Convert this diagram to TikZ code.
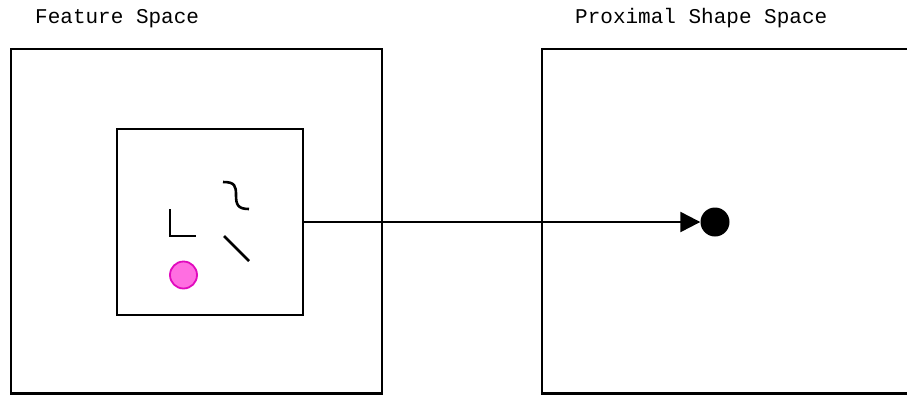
\documentclass[tikz,border=0pt]{standalone}
\usepackage{fontspec}
\setmonofont{Liberation Mono}
\usetikzlibrary{arrows.meta}
\definecolor{pinkfill}{RGB}{255,110,225}
\definecolor{pinkline}{RGB}{225,10,190}
\begin{document}
\begin{tikzpicture}[x=1pt,y=-1pt,
  frame/.style={draw=black,line width=2.6pt},
  glyph/.style={draw=black,line width=2.6pt},
  title/.style={font=\ttfamily\fontsize{21}{24}\selectfont,anchor=base west,inner sep=0pt}]
\useasboundingbox (0,0) rectangle (907,394);
\clip (0,0) rectangle (907,394);
\node[title] (t1) at (35,23) {Feature Space};
\node[title] (t2) at (575,23) {Proximal Shape Space};
\draw[frame] (11,49) rectangle (382,393.5);
\draw[frame] (542,49) rectangle (1000,393.5);
\node[frame,minimum width=186pt,minimum height=186pt,inner sep=0pt] (inner) at (210,222) {};
\draw[glyph] (170,209) -- (170,236) -- (196,236);
\draw[glyph] (223,182) .. controls (235,182) and (236,186) .. (236,195) .. controls (236,205) and (238,209) .. (249,209);
\draw[glyph] (224,236) -- (249,261);
\node[circle,fill=pinkfill,draw=pinkline,line width=1.8pt,minimum size=27pt,inner sep=0pt] (pink) at (183.5,275) {};
\node[circle,fill=black,minimum size=29pt,inner sep=0pt] (dot) at (715,222) {};
\draw[line width=2.4pt,-{Triangle[length=20pt,width=20pt]}] (inner.east) -- (dot.west);
\end{tikzpicture}
\end{document}
